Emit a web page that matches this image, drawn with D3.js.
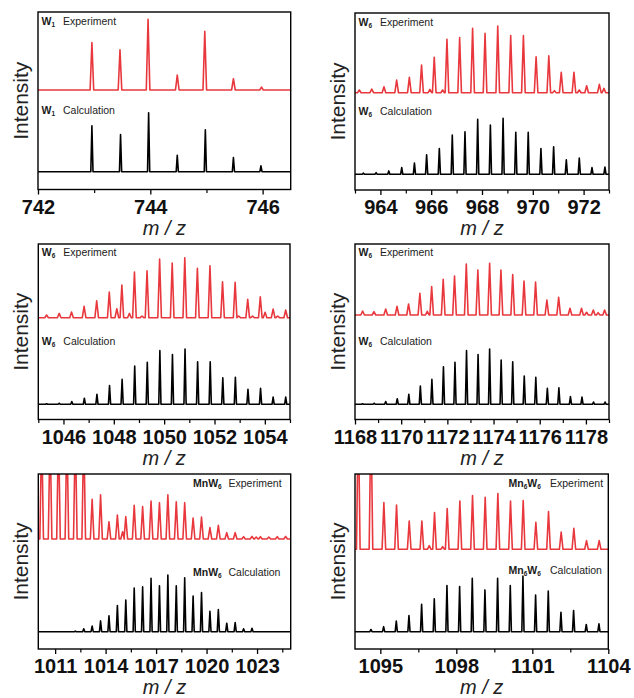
<!DOCTYPE html>
<html><head><meta charset="utf-8">
<script src="https://cdn.jsdelivr.net/npm/d3@7"></script>
<style>
html,body{margin:0;padding:0;background:#fff;}
svg{display:block;font-family:"Liberation Sans",Arial,sans-serif;}
</style></head>
<body><svg id="c" width="634" height="698"></svg>
<script>
// ---------------- DATA (relative intensity, tallest on-scale peak = 100) ----------------
// Panel 1 : W1
const w1ExpMz   = [742.96, 743.46, 743.96, 744.48, 744.97, 745.48, 745.98];
const w1ExpInt  = [67, 57, 100, 21, 83, 16, 4];
const w1CalcMz  = [742.96, 743.47, 743.97, 744.48, 744.98, 745.48, 745.97];
const w1CalcInt = [78, 63, 100, 28, 71, 24, 10];
const w1Ticks = [742, 744, 746];
const w1Minor = [743, 745];

// Panel 2 : W6 (963-973)
const w6aExpMz  = [963.17, 963.66, 964.14, 964.64, 965.14, 965.62, 965.95, 966.12, 966.45, 966.62, 967.12, 967.63, 968.12, 968.62, 969.13, 969.63, 970.13, 970.63, 970.85, 971.12, 971.62, 971.83, 972.12, 972.62, 972.8];
const w6aExpInt = [4, 5.5, 9, 19, 23, 41.5, 5, 53, 4, 80, 82.5, 96.5, 89, 100, 85.5, 85.5, 54, 55.5, 3, 30.5, 30.5, 4, 10.5, 12.5, 6.5];
const w6aCalcMz  = [963.33, 963.83, 964.33, 964.84, 965.34, 965.82, 966.32, 966.83, 967.33, 967.83, 968.33, 968.83, 969.33, 969.82, 970.32, 970.82, 971.32, 971.83, 972.33, 972.84];
const w6aCalcInt = [2, 3, 6, 12, 20, 35, 46, 70, 76, 98, 88, 100, 75, 75, 46, 49, 26, 29, 12, 13];
const w6aTicks = [964, 966, 968, 970, 972];
const w6aMinor = [963, 965, 967, 969, 971, 973];

// Panel 3 : W6 (1045-1055)
const w6bExpMz  = [1045.33, 1045.83, 1046.32, 1046.82, 1047.32, 1047.82, 1048.12, 1048.32, 1048.62, 1048.82, 1049.12, 1049.32, 1049.82, 1050.32, 1050.82, 1051.32, 1051.82, 1052.32, 1052.82, 1052.96, 1053.32, 1053.51, 1053.82, 1054.01, 1054.33, 1054.51, 1054.83];
const w6bExpInt = [4.4, 7.2, 9.4, 18.9, 28.3, 42.8, 15, 54.4, 7.2, 76.1, 2.8, 78.3, 97.8, 91.1, 100, 82.2, 86.7, 60, 58.9, 2.8, 30.6, 2.8, 35, 8.9, 14.4, 2.8, 12.8];
const w6bCalcMz  = [1045.33, 1045.83, 1046.33, 1046.83, 1047.33, 1047.83, 1048.33, 1048.83, 1049.33, 1049.83, 1050.33, 1050.83, 1051.33, 1051.83, 1052.33, 1052.83, 1053.33, 1053.83, 1054.33, 1054.83];
const w6bCalcInt = [1, 2, 5, 11, 18, 34, 45, 69, 76, 97, 90, 100, 77, 77, 48, 49, 27, 29, 13, 13];
const w6bTicks = [1046, 1048, 1050, 1052, 1054];
const w6bMinor = [1045, 1047, 1049, 1051, 1053, 1055];

// Panel 4 : W6 (1168-1179)
const w6cExpMz  = [1168.33, 1168.82, 1169.33, 1169.82, 1170.32, 1170.81, 1171.13, 1171.32, 1171.82, 1172.31, 1172.82, 1173.32, 1173.83, 1174.32, 1174.83, 1175.32, 1175.82, 1176.31, 1176.82, 1177.31, 1177.81, 1178.03, 1178.32, 1178.53, 1178.81];
const w6cExpInt = [7.7, 6.5, 11.6, 16.8, 21.3, 41.9, 7.1, 54.8, 69, 75.5, 98.7, 87.1, 100, 87.1, 78.1, 65.8, 63.9, 29, 34.2, 12.9, 12.9, 5.2, 9.7, 4.5, 9.7];
const w6cCalcMz  = [1168.33, 1168.83, 1169.33, 1169.83, 1170.33, 1170.83, 1171.33, 1171.83, 1172.33, 1172.83, 1173.33, 1173.83, 1174.33, 1174.83, 1175.33, 1175.83, 1176.33, 1176.83, 1177.33, 1177.83, 1178.33, 1178.83];
const w6cCalcInt = [1, 2, 5, 10, 18, 33, 45, 68, 76, 97, 90, 100, 80, 77, 51, 49, 29, 30, 14, 13, 4, 4];
const w6cTicks = [1168, 1170, 1172, 1174, 1176, 1178];
const w6cMinor = [1169, 1171, 1173, 1175, 1177, 1179];

// Panel 5 : MnW6 (1010-1025); first six experimental peaks are off-scale
const mnw6ExpMz  = [1010.2, 1010.7, 1011.2, 1011.7, 1012.2, 1012.7, 1013.2, 1013.7, 1014.2, 1014.7, 1015.01, 1015.2, 1015.7, 1016.2, 1016.7, 1017.2, 1017.7, 1018.2, 1018.7, 1019.2, 1019.7, 1020.2, 1020.7, 1021.2, 1021.7, 1022.2, 1022.7, 1022.95, 1023.2, 1023.7, 1024.2, 1024.7];
const mnw6ExpInt = [250, 250, 250, 250, 250, 250, 89.5, 100, 39, 54, 16.5, 50.4, 76, 73, 85.7, 82, 100, 84.2, 82, 47.4, 49.6, 25.6, 30.8, 14.3, 14.3, 5.3, 6, 4.5, 5.3, 4.5, 5.3, 6];
const mnw6CalcMz  = [1012.2, 1012.7, 1013.2, 1013.7, 1014.2, 1014.7, 1015.2, 1015.7, 1016.2, 1016.7, 1017.2, 1017.7, 1018.2, 1018.7, 1019.2, 1019.7, 1020.2, 1020.7, 1021.2, 1021.7, 1022.2, 1022.7];
const mnw6CalcInt = [1, 5, 10, 19, 28, 46, 56, 77, 79, 94, 81, 100, 81, 95, 63, 69, 36, 39, 15, 16, 5, 6];
const mnw6Ticks = [1011, 1014, 1017, 1020, 1023];
const mnw6Minor = [1012.5, 1015.5, 1018.5, 1021.5, 1024.5];

// Panel 6 : Mn6W6 (1094-1104); first two experimental peaks are off-scale
const mn6w6ExpMz  = [1094.13, 1094.63, 1095.14, 1095.64, 1096.14, 1096.64, 1096.93, 1097.14, 1097.46, 1097.64, 1098.14, 1098.64, 1099.14, 1099.64, 1100.14, 1100.64, 1101.14, 1101.64, 1102.14, 1102.64, 1103.14, 1103.64];
const mn6w6ExpInt = [250, 250, 83.8, 79.6, 50.9, 50.9, 6.6, 65.9, 4.8, 73.1, 86.8, 96.4, 93.4, 100, 86.8, 87.4, 48.5, 67.7, 31.1, 37.7, 15.6, 15.6];
const mn6w6CalcMz  = [1094.63, 1095.13, 1095.63, 1096.13, 1096.63, 1097.13, 1097.63, 1098.13, 1098.63, 1099.13, 1099.63, 1100.13, 1100.63, 1101.13, 1101.63, 1102.13, 1102.63, 1103.13, 1103.63];
const mn6w6CalcInt = [4, 9, 19, 29, 49, 59, 83, 81, 96, 75, 96, 83, 100, 66, 73, 35, 38, 13, 14];
const mn6w6Ticks = [1095, 1098, 1101, 1104];
const mn6w6Minor = [1096.5, 1099.5, 1102.5];

// ---------------- LAYOUT ----------------
const RED = "#e8383d";
const panels = [
  {domain:[742,746.5], ticks:w1Ticks, minor:w1Minor, exp:[w1ExpMz,w1ExpInt], calc:[w1CalcMz,w1CalcInt],
   box:{l:38,r:290.7,t:12,b:189.5}, expBase:90, expFull:70.7, calcBase:171.7, calcFull:59,
   name:[["W","b"],["1","s"]], align:"left", expY:25, calcY:114},
  {domain:[963,973], ticks:w6aTicks, minor:w6aMinor, exp:[w6aExpMz,w6aExpInt], calc:[w6aCalcMz,w6aCalcInt],
   box:{l:355,r:609,t:13,b:190}, expBase:92.7, expFull:66.7, calcBase:174.3, calcFull:56,
   name:[["W","b"],["6","s"]], align:"left", expY:26, calcY:115},
  {domain:[1045,1055], ticks:w6bTicks, minor:w6bMinor, exp:[w6bExpMz,w6bExpInt], calc:[w6bCalcMz,w6bCalcInt],
   box:{l:38.3,r:290,t:244,b:419.5}, expBase:317.7, expFull:60, calcBase:404.3, calcFull:55.3,
   name:[["W","b"],["6","s"]], align:"left", expY:256, calcY:345},
  {domain:[1168,1179], ticks:w6cTicks, minor:w6cMinor, exp:[w6cExpMz,w6cExpInt], calc:[w6cCalcMz,w6cCalcInt],
   box:{l:355,r:609,t:244,b:419.5}, expBase:315, expFull:51.7, calcBase:404.3, calcFull:55.3,
   name:[["W","b"],["6","s"]], align:"left", expY:256, calcY:345},
  {domain:[1010,1025], ticks:mnw6Ticks, minor:mnw6Minor, exp:[mnw6ExpMz,mnw6ExpInt], calc:[mnw6CalcMz,mnw6CalcInt],
   box:{l:38.3,r:290.7,t:474,b:649}, expBase:539, expFull:44.3, calcBase:631.7, calcFull:56.7,
   name:[["MnW","b"],["6","s"]], align:"right", nameX:193, wordX:228.5, expY:487, calcY:576},
  {domain:[1094,1104], ticks:mn6w6Ticks, minor:mn6w6Minor, exp:[mn6w6ExpMz,mn6w6ExpInt], calc:[mn6w6CalcMz,mn6w6CalcInt],
   box:{l:355,r:608.3,t:474,b:649}, expBase:549.3, expFull:55.7, calcBase:631.7, calcFull:55.7,
   name:[["Mn","b"],["6","s"],["W","b"],["6","s"]], align:"right", nameX:508.5, wordX:550, expY:487, calcY:573.5}
];

const svg = d3.select("#c");

function addName(p, y, word){
  const nx = p.align === "left" ? p.box.l + 3.5 : p.nameX;
  const wx = p.align === "left" ? p.box.l + 25 : p.wordX;
  const t = svg.append("text").attr("x", nx).attr("y", y).attr("fill", "#1a1a1a");
  let sub = false;
  p.name.forEach(([s, k]) => {
    const ts = t.append("tspan").text(s);
    if (k === "b") { ts.attr("font-size", 10.5).attr("font-weight", "bold"); if (sub) { ts.attr("dy", -2.4); sub = false; } }
    else { ts.attr("font-size", 6.5).attr("font-weight", "bold").attr("dy", 2.4); sub = true; }
  });
  svg.append("text").attr("x", wx).attr("y", y).attr("font-size", 10.5).attr("fill", "#222").text(word);
}

panels.forEach((p, i) => {
  const x = d3.scaleLinear().domain(p.domain).range([p.box.l, p.box.r]);
  const clipId = "clip" + i;
  svg.append("clipPath").attr("id", clipId).append("rect")
    .attr("x", p.box.l).attr("y", p.box.t).attr("width", p.box.r - p.box.l).attr("height", p.box.b - p.box.t);

  const g = svg.append("g").attr("clip-path", `url(#${clipId})`);

  function trace([mz, inten], base, full, color, hw, sw){
    const y = d3.scaleLinear().domain([0, 100]).range([base, base - full]);
    const pts = [[x.invert(p.box.l - 2), 0]];
    const order = d3.range(mz.length).sort((a, b) => mz[a] - mz[b]);
    const dx = x.invert(p.box.l + hw) - x.invert(p.box.l);
    order.forEach(k => {
      pts.push([mz[k] - dx, 0], [mz[k], inten[k]], [mz[k] + dx, 0]);
    });
    pts.push([x.invert(p.box.r + 2), 0]);
    const line = d3.line().x(d => x(d[0])).y(d => y(d[1]));
    g.append("path").attr("d", line(pts)).attr("fill", "none")
      .attr("stroke", color).attr("stroke-width", sw).attr("stroke-linejoin", "round");
  }
  trace(p.exp, p.expBase, p.expFull, RED, 1.8, 1.6);
  trace(p.calc, p.calcBase, p.calcFull, "#000", 1.1, 1.6);

  // frame
  svg.append("rect").attr("x", p.box.l).attr("y", p.box.t)
    .attr("width", p.box.r - p.box.l).attr("height", p.box.b - p.box.t)
    .attr("fill", "none").attr("stroke", "#000").attr("stroke-width", 1.4);

  // axes
  const ax = svg.append("g").attr("transform", `translate(0,${p.box.b})`)
    .call(d3.axisBottom(x).tickValues(p.ticks).tickSize(5).tickPadding(5).tickFormat(d3.format("d")));
  ax.select(".domain").remove();
  ax.selectAll(".tick line").attr("stroke-width", 1.3);
  ax.selectAll("text").attr("font-size", 20).attr("font-weight", "bold")
    .attr("font-family", "'Liberation Sans',Arial,sans-serif").attr("fill", "#111");
  const axm = svg.append("g").attr("transform", `translate(0,${p.box.b})`)
    .call(d3.axisBottom(x).tickValues(p.minor).tickSize(3.5).tickFormat(""));
  axm.select(".domain").remove();
  axm.selectAll(".tick line").attr("stroke-width", 1.2);

  // axis titles
  const cx = (p.box.l + p.box.r) / 2;
  svg.append("text").attr("x", cx).attr("y", p.box.b + 45).attr("text-anchor", "middle")
    .attr("font-size", 20).attr("font-style", "italic").attr("fill", "#222").text("m / z");
  const cy = (p.box.t + p.box.b) / 2;
  svg.append("text").attr("transform", `translate(${p.box.l - 10},${cy}) rotate(-90)`)
    .attr("text-anchor", "middle").attr("font-size", 21).attr("fill", "#222").text("Intensity");

  addName(p, p.expY, "Experiment");
  addName(p, p.calcY, "Calculation");
});
</script></body></html>
